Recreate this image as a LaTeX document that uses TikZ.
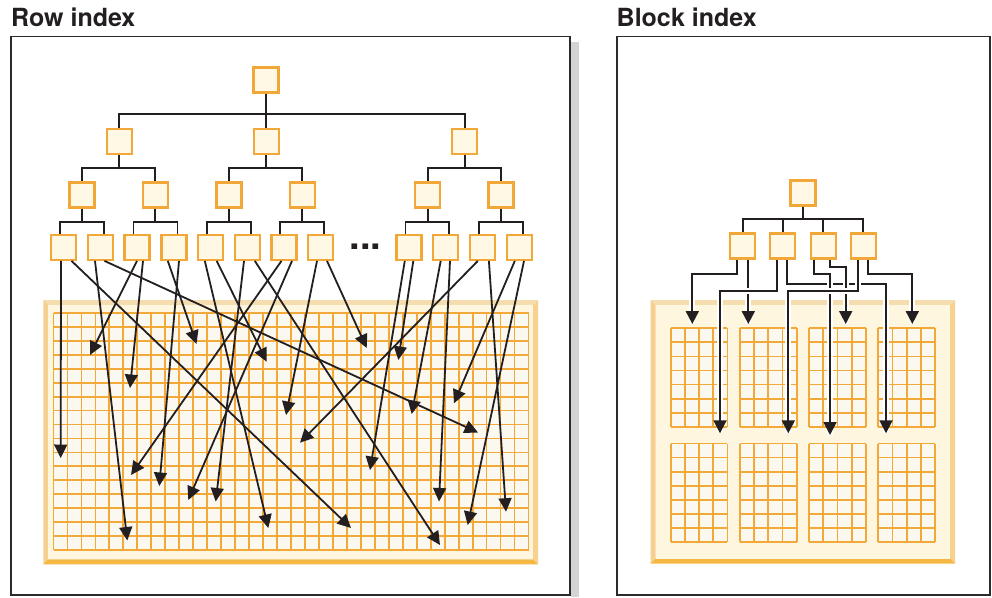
\documentclass[tikz,border=0pt]{standalone}
\usepackage{fontspec}
\setmainfont{TeX Gyre Heros}
\usetikzlibrary{arrows.meta}
\definecolor{framec}{HTML}{2B2B2B}
\definecolor{darkc}{HTML}{231F20}
\definecolor{boxo}{HTML}{F2A838}
\definecolor{boxf}{HTML}{FFF8E5}
\definecolor{gridc}{HTML}{F2A93A}
\definecolor{cellf}{HTML}{FBF8EF}
\definecolor{creamc}{HTML}{FEF6DF}
\definecolor{bevtop}{HTML}{F5DDB0}
\definecolor{bevleft}{HTML}{F5D08E}
\definecolor{bevright}{HTML}{F7D28F}
\definecolor{bevbot}{HTML}{F6B844}
\definecolor{shadowc}{HTML}{D3D4D6}
\newcommand\cpath[1]{\draw[casing] #1;\draw[rarr] #1;}
\newcommand\bevelrect[4]{%
  \fill[bevtop] (#1,#2) -- (#3,#2) -- ({#3-5},{#2+5}) -- ({#1+5},{#2+5}) -- cycle;
  \fill[bevleft] (#1,#2) -- ({#1+5},{#2+5}) -- ({#1+5},{#4-5}) -- (#1,#4) -- cycle;
  \fill[bevright] (#3,#2) -- (#3,#4) -- ({#3-5},{#4-5}) -- ({#3-5},{#2+5}) -- cycle;
  \fill[bevbot] (#1,#4) -- (#3,#4) -- ({#3-5},{#4-5}) -- ({#1+5},{#4-5}) -- cycle;
  \fill[creamc] ({#1+5},{#2+5}) rectangle ({#3-5},{#4-5});}
\begin{document}
\begin{tikzpicture}[x=1pt,y=-1pt,
  frame/.style={draw=framec,line width=1.7pt},
  tbox/.style={rectangle,draw=boxo,fill=boxf,line width=2.2pt,minimum size=25pt,inner sep=0pt},
  tree/.style={draw=darkc,line width=1.9pt},
  arr/.style={draw=darkc,line width=1.8pt,-{Triangle[length=13.5pt,width=13pt]}},
  rarr/.style={draw=darkc,line width=1.9pt,-{Triangle[length=13pt,width=13pt]}},
  casing/.style={draw=white,line width=6pt},
  gridl/.style={draw=gridc,line width=1.8pt},
  title/.style={anchor=base west,inner sep=0pt,font=\fontsize{25}{26}\selectfont\bfseries,text=darkc}]
\useasboundingbox (0,0) rectangle (992,597);
\fill[white] (0,0) rectangle (992,597);
% titles
\node[title] (t1) at (11,26.5) {Row index};
\node[title] (t2) at (616.5,26.5) {Block index};
% frames
\fill[shadowc] (571,42) rectangle (578.5,597);
\draw[frame] (10.7,36.5) rectangle (570,595);
\draw[frame] (617,36.5) rectangle (990,595);
% ===== left grid =====
\bevelrect{43.3}{300}{538}{564.3}
\fill[cellf] (53.5,313) rectangle (528.5,550);
\foreach \i in {0,...,34} \draw[gridl] ({53.5+13.97*\i},313) -- ({53.5+13.97*\i},550);
\foreach \j in {0,...,17} \draw[gridl] (53.5,{313+13.94*\j}) -- (528.5,{313+13.94*\j});
% ===== left tree =====
\node[tbox] (r) at (266,80) {};
\node[tbox] (a1) at (119.3,141.7) {};
\node[tbox] (a2) at (266.3,141.7) {};
\node[tbox] (a3) at (464.8,141.7) {};
\foreach \n/\x in {m1/82,m2/155.4,m3/229,m4/302.4,m5/427.6,m6/501}
  \node[tbox] (\n) at (\x,195) {};
\foreach \n/\x in {b1/63.3,b2/100.2,b3/137,b4/174,b5/210.6,b6/247.2,b7/283.9,b8/320.6,b9/409,b10/445.6,b11/482.6,b12/519.4}
  \node[tbox] (\n) at (\x,247.3) {};
\node[anchor=base,inner sep=0pt,font=\fontsize{38}{38}\selectfont\bfseries,text=darkc] (dots) at (365.5,249.5) {...};
\foreach \c in {a1,a2,a3} \draw[tree] (r.south) -- ++(0,20.8) -| (\c.north);
\foreach \p/\c in {a1/m1,a1/m2,a2/m3,a2/m4,a3/m5,a3/m6} \draw[tree] (\p.south) -- ++(0,13.1) -| (\c.north);
\foreach \p/\c/\s in {m1/b1/-3.5,m1/b2/3.5,m2/b3/-3.5,m2/b4/3.5,m3/b5/-3.5,m3/b6/3.5,m4/b7/-3.5,m4/b8/3.5,m5/b9/-3.5,m5/b10/3.5,m6/b11/-3.5,m6/b12/3.5}
  \draw[tree] (\p.south) -- ++(0,13.1) -| ([xshift=\s pt]\c.north);
% arrow tips
\coordinate (p1a) at (60.7,458);   \coordinate (p1b) at (351,528);
\coordinate (p2a) at (127.3,540.5);\coordinate (p2b) at (478,432.5);
\coordinate (p3a) at (90,355);     \coordinate (p3b) at (130,388);
\coordinate (p4a) at (196.5,344);  \coordinate (p4b) at (159.3,486);
\coordinate (p5a) at (268.3,528);  \coordinate (p5b) at (266.7,361.7);
\coordinate (p6a) at (215.7,501.5);\coordinate (p6b) at (440,545);
\coordinate (p7a) at (131,475);    \coordinate (p7b) at (188.3,500);
\coordinate (p8a) at (286,415);    \coordinate (p8b) at (366.7,348);
\coordinate (p9a) at (370,470);    \coordinate (p9b) at (398.3,360);
\coordinate (p10a) at (411.7,414); \coordinate (p10b) at (439,501.5);
\coordinate (p11a) at (300,442.7); \coordinate (p11b) at (506,511.7);
\coordinate (p12a) at (454,403.3); \coordinate (p12b) at (467.7,525);
\foreach \b/\sa/\sb in {1/-2.3/8.2,2/-5.2/4.3,3/0/6,4/-6.2/5,5/-5.8/6.1,6/-3.2/7.6,7/-2.4/8.1,8/-3.6/6.4,9/-4.2/4.3,10/-4.9/4.4,11/-4.8/6.3,12/-4.6/4.6}{
  \draw[arr] ([xshift=\sa pt]b\b.south) -- (p\b a);
  \draw[arr] ([xshift=\sb pt]b\b.south) -- (p\b b);
}
% ===== right panel =====
\bevelrect{650.7}{300}{955}{563.5}
\foreach \bx in {670.7,739.9,809.1,878.3}{
  \foreach \by in {328.3,443.5}{
    \fill[cellf] (\bx,\by) rectangle ({\bx+56.7},{\by+98.5});
    \foreach \i in {0,...,4} \draw[gridl] ({\bx+14.175*\i},\by) -- ({\bx+14.175*\i},{\by+98.5});
    \foreach \j in {0,...,7} \draw[gridl] (\bx,{\by+14.07*\j}) -- ({\bx+56.7},{\by+14.07*\j});
  }
}
\node[tbox] (R0) at (803,193) {};
\foreach \n/\x in {c1/742.7,c2/782.7,c3/823.3,c4/863.3}
  \node[tbox] (\n) at (\x,246) {};
\foreach \c in {c1,c2,c3,c4} \draw[tree] (R0.south) -- ++(0,12.8) -| (\c.north);
\coordinate (u1) at (886,433.3);
\coordinate (u2) at (692.3,324);
\coordinate (u3) at (748.3,324);
\coordinate (u4) at (845.7,324);
\coordinate (u5) at (830,435);
\coordinate (u6) at (912.3,324);
\coordinate (u7) at (720,433.3);
\coordinate (u8) at (788.3,433.3);
\cpath{([xshift=4.6pt]c2.south) -- ++(0,24) -| (u1)}
\cpath{([xshift=-6pt]c1.south) -- ++(0,14.5) -| (u2)}
\cpath{([xshift=5.6pt]c1.south) -- (u3)}
\cpath{([xshift=6.7pt]c3.south) -- ++(0,7) -| (u4)}
\cpath{([xshift=-9pt]c3.south) -- ++(0,14.5) -| (u5)}
\cpath{([xshift=5pt]c4.south) -- ++(0,14.5) -| (u6)}
\cpath{([xshift=-6pt]c2.south) -- ++(0,31.3) -| (u7)}
\cpath{([xshift=-5.6pt]c4.south) -- ++(0,31.3) -| (u8)}
\end{tikzpicture}
\end{document}
